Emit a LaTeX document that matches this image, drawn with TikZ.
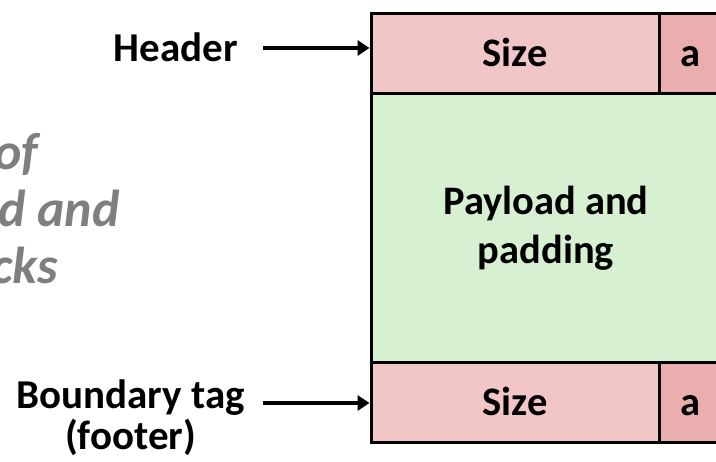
\documentclass[tikz,border=0pt]{standalone}
\usepackage{fontspec}
\setmainfont{Carlito}
\usetikzlibrary{arrows.meta}
\definecolor{hdrpink}{HTML}{F2C6C6}
\definecolor{bitpink}{HTML}{EAAEAE}
\definecolor{paygreen}{HTML}{D6F0D1}
\definecolor{titlegray}{HTML}{7F7F7F}
\tikzset{
  cell/.style={draw=black, line width=3pt, inner sep=0pt, font=\fontsize{40.5}{49.4}\selectfont\bfseries},
  sizecell/.style={cell, fill=hdrpink, minimum width=288pt, minimum height=80pt, text height=26pt, text depth=0pt},
  bitcell/.style={cell, fill=bitpink, minimum width=62pt, minimum height=80pt, text height=26pt, text depth=0pt},
  paycell/.style={cell, fill=paygreen, minimum width=350pt, minimum height=269pt, align=center},
  lbl/.style={inner sep=0pt, font=\fontsize{41}{41}\selectfont\bfseries, align=center},
  ttl/.style={inner sep=0pt, anchor=base west, text=titlegray, font=\fontsize{52}{61}\selectfont\bfseries\itshape},
  arr/.style={line width=4pt, -{Triangle[length=12pt,width=15pt]}}
}
\begin{document}
\begin{tikzpicture}[x=1pt,y=-1pt]
\useasboundingbox (0,0) rectangle (716,462);
\clip (0,0) rectangle (716,462);
% title (cut off at the left edge)
\node[ttl] (t1) at (-174,170) {Format of};
\node[ttl] (t2) at (-174,227) {allocated and};
\node[ttl] (t3) at (-174,284) {free blocks};
% block
\node[paycell] (pay) at (546,228.5) {Payload and\\padding};
\node[sizecell] (hsize) at (515,54) {Size};
\node[bitcell] (hbit) at (690,54) {a};
\node[sizecell] (fsize) at (515,403) {Size};
\node[bitcell] (fbit) at (690,403) {a};
% labels
\node[lbl, anchor=base east] (hlabel) at (238,62) {Header};
\node[lbl, anchor=base] (flabel) at (130.5,450) {Boundary tag\\(footer)};
\coordinate (hstart) at (263,48);
\coordinate (fstart) at (263,403);
\draw[arr] (hstart) -- (hstart -| hsize.west);
\draw[arr] (fstart) -- (fstart -| fsize.west);
\end{tikzpicture}
\end{document}
